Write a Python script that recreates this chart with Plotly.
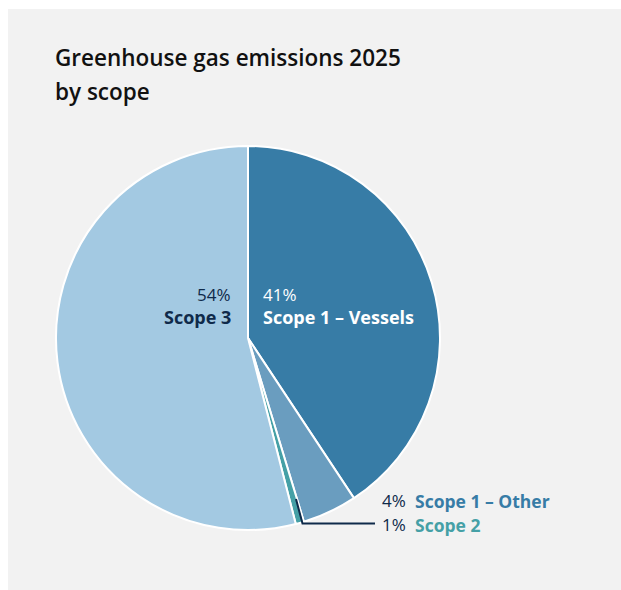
import plotly.graph_objects as go

W, H = 621, 590

# ---- data ----
scopes = ["Scope 1 – Vessels", "Scope 1 – Other", "Scope 2", "Scope 3"]
shares = [40.7, 4.6, 0.7, 54.0]
share_labels = ["41%", "4%", "1%", "54%"]
title_lines = ["Greenhouse gas emissions 2025", "by scope"]

# ---- styles ----
slice_colors = ["#377ca6", "#6a9dbf", "#45a0a6", "#a3c9e2"]
navy = "#0f2a4a"
font_family = "'Open Sans', sans-serif"

def px_x(x):
    return x / W

def px_y(y):
    return 1 - y / H

fig = go.Figure()

cx, cy, r = 248, 338, 192
fig.add_trace(go.Pie(
    labels=scopes,
    values=shares,
    sort=False,
    direction="clockwise",
    rotation=0,
    marker=dict(colors=slice_colors, line=dict(color="white", width=2)),
    textinfo="none",
    hoverinfo="label+percent",
    showlegend=False,
    domain=dict(x=[px_x(cx - r), px_x(cx + r)], y=[px_y(cy + r), px_y(cy - r)]),
))

shapes = [
    dict(type="rect", xref="paper", yref="paper", x0=px_x(8), x1=1, y0=0, y1=px_y(9),
         fillcolor="#f2f2f2", line=dict(width=0), layer="below"),
    dict(type="path", xref="paper", yref="paper",
         path=f"M {px_x(296)},{px_y(499)} L {px_x(302.5)},{px_y(523.5)} L {px_x(375)},{px_y(523.5)}",
         line=dict(color=navy, width=2)),
]

ann = []
def label(xp, yp, text, color, anchor, weight="normal", size=18):
    ann.append(dict(x=px_x(xp), y=px_y(yp), text=text, showarrow=False, xanchor=anchor,
                    yanchor="middle", xref="paper", yref="paper",
                    font=dict(family=font_family, size=size, color=color, weight=weight)))

# title
label(53, 57, title_lines[0], "#111111", "left", weight=600, size=22.5)
label(53, 92, title_lines[1], "#111111", "left", weight=600, size=22.5)

# Scope 3 (inside, left)
label(233, 294, share_labels[3], navy, "right", size=17)
label(233, 317, scopes[3], navy, "right", weight="bold")
# Scope 1 – Vessels (inside, right)
label(261, 294, share_labels[0], "white", "left", size=17)
label(261, 317, scopes[0], "white", "left", weight="bold")
# Scope 1 – Other (outside)
label(408, 500.5, share_labels[1], navy, "right", size=17)
label(413, 500.5, scopes[1], slice_colors[0], "left", weight="bold", size=17.5)
# Scope 2 (outside)
label(408, 524.5, share_labels[2], navy, "right", size=17)
label(413, 524.5, scopes[2], slice_colors[2], "left", weight="bold", size=17.5)

fig.update_layout(
    width=W, height=H,
    margin=dict(l=0, r=0, t=0, b=0),
    paper_bgcolor="white",
    plot_bgcolor="white",
    shapes=shapes,
    annotations=ann,
)

fig.write_html("out.html")
